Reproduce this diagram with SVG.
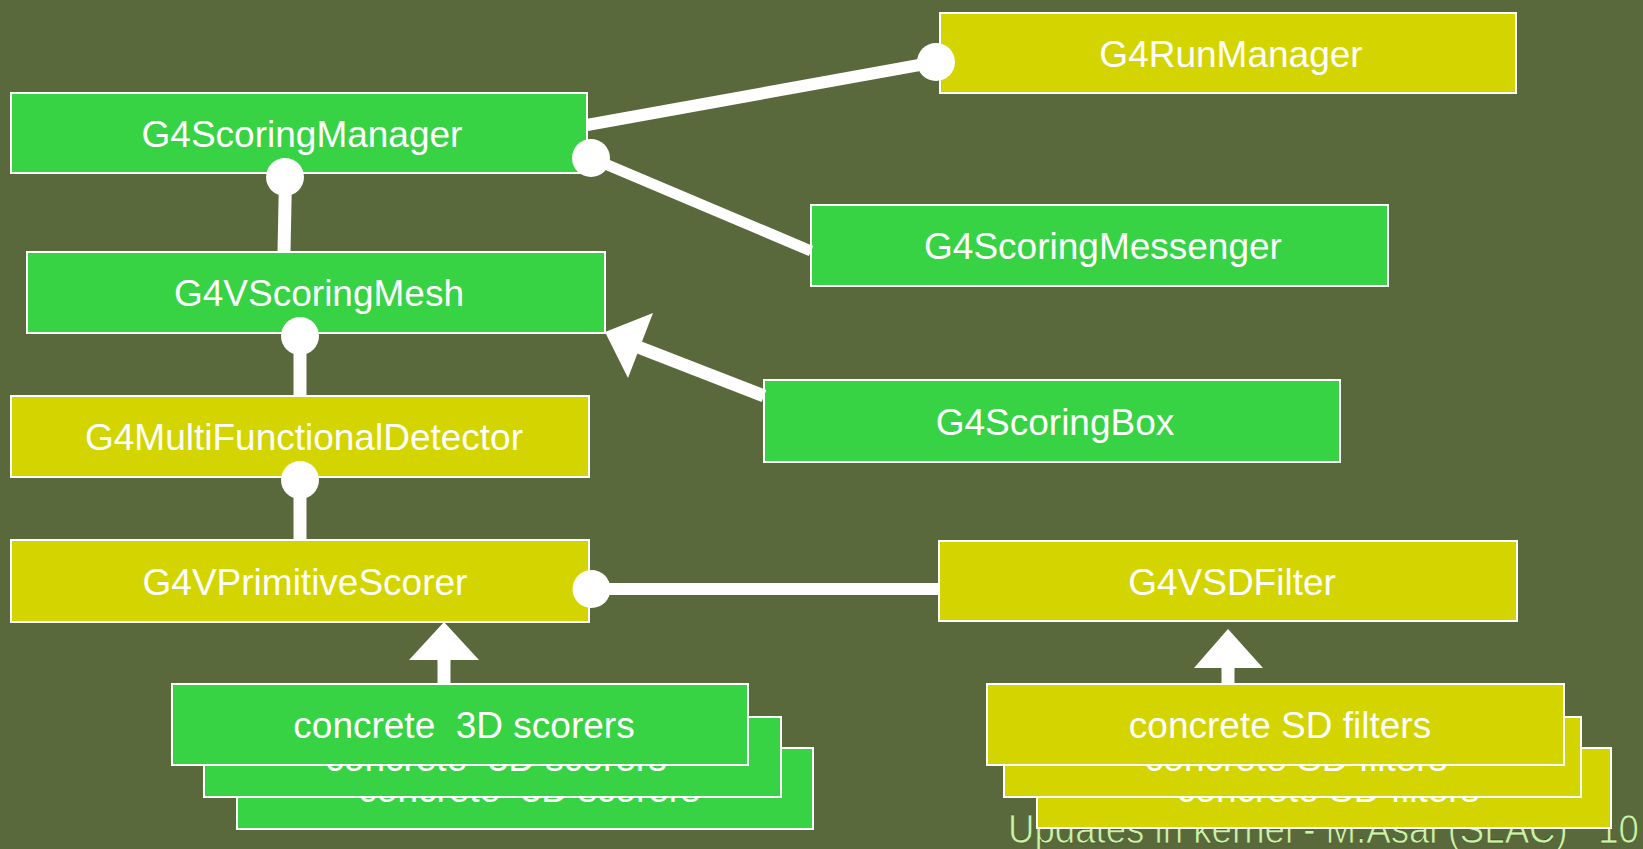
<svg xmlns="http://www.w3.org/2000/svg" width="1643" height="849" viewBox="0 0 1643 849" xml:space="preserve">
<style>
.g{fill:#38d245;stroke:#ffffff;stroke-width:2}
.y{fill:#d4d400;stroke:#ffffff;stroke-width:2}
.t{font-family:"Liberation Sans",Arial,sans-serif;font-size:37px;fill:#ffffff;text-anchor:middle;white-space:pre}
.ln{stroke:#ffffff;fill:none;stroke-linecap:butt}
.ball{fill:#ffffff}
.tri{fill:#ffffff}
.foot{font-family:"Liberation Sans",Arial,sans-serif;font-size:40px;fill:#ccf2a6;stroke:#3a4a22;stroke-width:0.6;white-space:pre}
</style>
<rect x="0" y="0" width="1643" height="849" fill="#59693b"/>
<text class="foot" x="1008" y="843" textLength="631" lengthAdjust="spacingAndGlyphs">Updates in kernel - M.Asai (SLAC)   10</text>
<g id="G4RunManager"><rect class="y" x="940" y="13" width="576" height="80"/><text class="t" x="1231" y="66.5">G4RunManager</text></g>
<g id="G4ScoringManager"><rect class="g" x="11" y="93" width="576" height="80"/><text class="t" x="302" y="146.5">G4ScoringManager</text></g>
<g id="G4ScoringMessenger"><rect class="g" x="811" y="205" width="577" height="81"/><text class="t" x="1103" y="259">G4ScoringMessenger</text></g>
<g id="G4VScoringMesh"><rect class="g" x="27" y="252" width="578" height="81"/><text class="t" x="319" y="306">G4VScoringMesh</text></g>
<g id="G4ScoringBox"><rect class="g" x="764" y="380" width="576" height="82"/><text class="t" x="1055" y="434.5">G4ScoringBox</text></g>
<g id="G4MultiFunctionalDetector"><rect class="y" x="11" y="396" width="578" height="81"/><text class="t" x="304" y="450">G4MultiFunctionalDetector</text></g>
<g id="G4VPrimitiveScorer"><rect class="y" x="11" y="540" width="578" height="82"/><text class="t" x="305" y="594.5">G4VPrimitiveScorer</text></g>
<g id="G4VSDFilter"><rect class="y" x="939" y="541" width="578" height="80"/><text class="t" x="1232" y="594.5">G4VSDFilter</text></g>
<g id="concrete-3D-scorers">
<rect class="g" x="237" y="748" width="576" height="81"/><text class="t" x="529" y="802">concrete  3D scorers</text>
<rect class="g" x="204" y="717" width="577" height="80"/><text class="t" x="496" y="770.5">concrete  3D scorers</text>
<rect class="g" x="172" y="684" width="576" height="81"/><text class="t" x="464" y="738">concrete  3D scorers</text>
</g>
<g id="concrete-SD-filters">
<rect class="y" x="1037" y="748" width="574" height="80"/><text class="t" x="1328" y="801.5">concrete SD filters</text>
<rect class="y" x="1004" y="717" width="577" height="80"/><text class="t" x="1296" y="770.5">concrete SD filters</text>
<rect class="y" x="987" y="684" width="577" height="81"/><text class="t" x="1280" y="738">concrete SD filters</text>
</g>
<g id="connectors">
<line class="ln" x1="587" y1="125" x2="936" y2="62" stroke-width="12"/>
<circle class="ball" cx="936" cy="62" r="19"/>
<line class="ln" x1="591" y1="158" x2="811" y2="251" stroke-width="11"/>
<circle class="ball" cx="591" cy="158" r="19"/>
<line class="ln" x1="285.5" y1="177" x2="284" y2="252" stroke-width="13"/>
<circle class="ball" cx="285" cy="177" r="19"/>
<line class="ln" x1="300" y1="336" x2="300" y2="396" stroke-width="13"/>
<circle class="ball" cx="300" cy="336" r="19"/>
<line class="ln" x1="300" y1="480" x2="300" y2="540" stroke-width="13"/>
<circle class="ball" cx="300" cy="480" r="19"/>
<line class="ln" x1="591" y1="589" x2="939" y2="589" stroke-width="12"/>
<circle class="ball" cx="591.5" cy="589" r="19"/>
<line class="ln" x1="764" y1="396" x2="638" y2="347" stroke-width="13"/>
<polygon class="tri" points="605,332 653,313 628,378"/>
<line class="ln" x1="444" y1="684" x2="444" y2="659" stroke-width="13"/>
<polygon class="tri" points="444,622 409,660 479,660"/>
<line class="ln" x1="1228" y1="684" x2="1228" y2="667" stroke-width="13"/>
<polygon class="tri" points="1228,629 1194,668 1263,668"/>
</g>
</svg>
